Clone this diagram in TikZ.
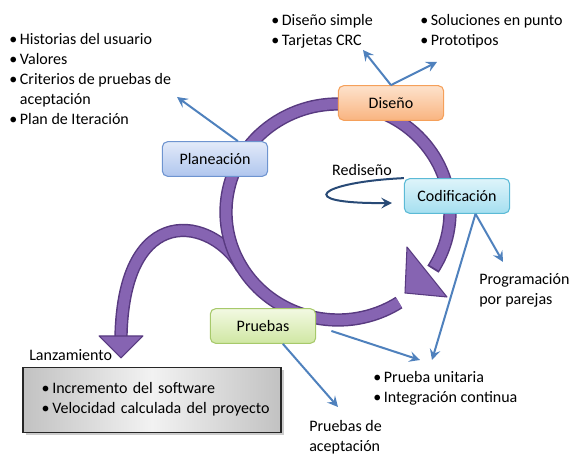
\documentclass[tikz,border=0pt]{standalone}
\usepackage{fontspec}
\setmainfont{Carlito}
\usetikzlibrary{arrows.meta,shadows}
\definecolor{planedge}{RGB}{110,148,208}
\definecolor{plantop}{RGB}{226,234,249}
\definecolor{planbot}{RGB}{176,198,238}
\definecolor{disedge}{RGB}{245,160,90}
\definecolor{distop}{RGB}{253,226,204}
\definecolor{disbot}{RGB}{249,180,128}
\definecolor{codedge}{RGB}{91,186,214}
\definecolor{codtop}{RGB}{222,244,250}
\definecolor{codbot}{RGB}{165,223,240}
\definecolor{pruedge}{RGB}{167,201,107}
\definecolor{prutop}{RGB}{242,249,226}
\definecolor{prubot}{RGB}{208,231,163}
\definecolor{ringfill}{RGB}{134,100,178}
\definecolor{ringdark}{RGB}{88,58,128}
\definecolor{arrowblue}{RGB}{79,129,189}
\definecolor{arrownavy}{RGB}{40,74,118}
\newcommand{\blist}[1]{\begin{tabular}{@{}l@{\hspace{2pt}}l@{}}#1\end{tabular}}
\newcommand{\tlines}[1]{\begin{tabular}{@{}l@{}}#1\end{tabular}}

\begin{document}
\begin{tikzpicture}[x=0.75pt,y=0.75pt,
    font=\fontsize{12}{15}\selectfont,
    block_phase/.style ={rectangle, thick, rounded corners=4pt,
      minimum width=79pt, minimum height=26pt, inner sep=2pt},
    block_plan/.style ={block_phase, draw=planedge, top color=plantop, bottom color=planbot},
    block_design/.style ={block_phase, draw=disedge, top color=distop, bottom color=disbot},
    block_code/.style ={block_phase, draw=codedge, top color=codtop, bottom color=codbot},
    block_test/.style ={block_phase, draw=pruedge, top color=prutop, bottom color=prubot},
    block_release/.style ={rectangle, draw=black!85, thick,
      left color=black!24, right color=black!24, middle color=black!5,
      minimum width=193.5pt, minimum height=48.75pt, text width=165.5pt,
      inner xsep=14pt, align=left,
      drop shadow={shadow xshift=2pt, shadow yshift=-2pt, opacity=0.4}},
    block_text/.style ={inner sep=0pt, anchor=north west},
    ring_edge/.style ={draw=ringdark, line width=10pt},
    ring_body/.style ={draw=ringfill, line width=7.8pt},
    ring_head/.style ={fill=ringfill, draw=ringdark, line width=0.8pt, line join=round},
    line/.style ={draw, color=arrowblue, line width=1.5pt,
      -{Stealth[length=8pt, width=8pt, inset=3pt]}}]
    \useasboundingbox (0,0) rectangle (586,466);
    % purple cycle and release branch
    \draw[ring_edge] (242,198) .. controls (212,250) and (124,265) .. (121,130);
    \draw[ring_body] (242,198) .. controls (212,250) and (124,265) .. (121,130);
    \filldraw[ring_head] (99,130) -- (143,130) -- (121,108) -- cycle;
    \draw[ring_edge] (338,254) ++(-57:112 and 108)
      arc[start angle=-57, end angle=-392, x radius=112, y radius=108];
    \filldraw[ring_head] (407,219) -- (447,169) -- (405,173) -- cycle;
    \draw[ring_body] (338,254) ++(-57:112 and 108)
      arc[start angle=-57, end angle=-391, x radius=112, y radius=108];
    % phases
    \node [block_plan] (planeacion) at (215,307) {Planeación};
    \node [block_design] (diseno) at (391,363) {Diseño};
    \node [block_code] (codif) at (457,270) {Codificación};
    \node [block_test] (pruebas) at (263,140) {Pruebas};
    \node [block_release] (lanz) at (152,66) {\blist{\textbullet & Incremento del software\\
      \textbullet & Velocidad calculada del proyecto}};
    % texts
    \node [block_text] (planlist) at (9,436) {\blist{\textbullet & Historias del usuario\\
      \textbullet & Valores\\ \textbullet & Criterios de pruebas de\\ & aceptación\\
      \textbullet & Plan de Iteración}};
    \node [block_text] (dislist) at (271,455) {\blist{\textbullet & Diseño simple\\ \textbullet & Tarjetas CRC}};
    \node [block_text] (sollist) at (420,455) {\blist{\textbullet & Soluciones en punto\\ \textbullet & Prototipos}};
    \node [block_text] (pairs) at (479,196) {\tlines{Programación\\ por parejas}};
    \node [block_text] (testlist) at (373,98) {\blist{\textbullet & Prueba unitaria\\ \textbullet & Integración continua}};
    \node [block_text] (accept) at (309,49) {\tlines{Pruebas de\\ aceptación}};
    \node [anchor=base west, inner sep=0pt] (lanzlabel) at (29,105) {Lanzamiento};
    \node [inner sep=0pt] (redlabel) at (362,296) {Rediseño};
    % arrow ends
    \coordinate (plan_tip) at (177,369);
    \coordinate (dis_tip_a) at (363,416);
    \coordinate (dis_tip_b) at (437,404);
    \coordinate (cod_tip_a) at (503,204);
    \coordinate (cod_tip_b) at (432,106);
    \coordinate (pru_tip_a) at (420,106);
    \coordinate (pru_tip_b) at (338,59);
    \coordinate (red_tip) at (392,263);
    % connecting nodes with paths
    \begin{scope}[every path/.style=line]
      \path (planeacion.38) -- (plan_tip);
      \path (diseno.north) -- (dis_tip_a);
      \path (diseno.north) -- (dis_tip_b);
      \path (codif.-44) -- (cod_tip_a);
      \path (codif.-44) -- (cod_tip_b);
      \path[shorten <=12pt] (pruebas.east) -- (pru_tip_a);
      \path (pruebas.-42) -- (pru_tip_b);
      \path[color=arrownavy] (codif.north west) .. controls (320,284) and (290,262) .. (red_tip);
    \end{scope}
\end{tikzpicture}
\end{document}
